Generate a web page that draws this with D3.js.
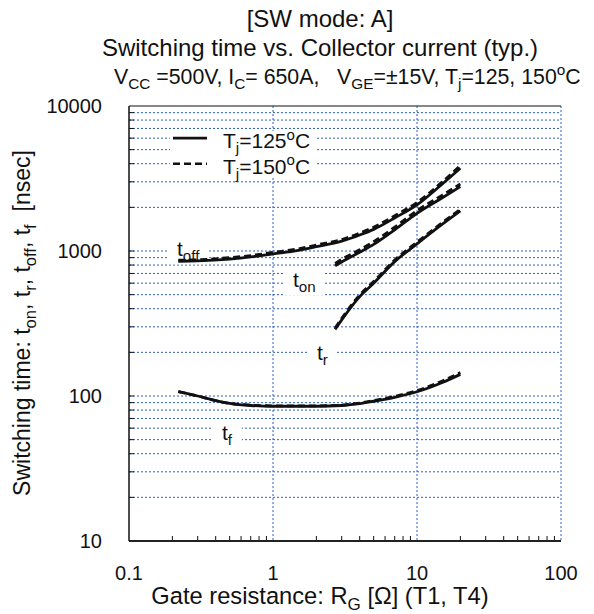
<!DOCTYPE html>
<html><head><meta charset="utf-8">
<script src="https://cdn.jsdelivr.net/npm/d3@7"></script>
<style>body{margin:0;background:#fff}svg{display:block;font-family:"Liberation Sans",Arial,sans-serif}</style>
</head><body><svg id="c" width="594" height="614"></svg>
<script>
// ---- data ----
const rOff = [0.22, 0.3, 0.5, 0.7, 1, 1.5, 2, 3, 4, 5, 7, 10, 15, 20];
const tOff125 = [850, 855, 880, 910, 955, 1010, 1070, 1170, 1290, 1410, 1690, 2080, 2900, 3720];
const tOff150 = [865, 870, 900, 930, 978, 1035, 1100, 1200, 1330, 1460, 1750, 2160, 3000, 3880];
const rOn = [2.7, 3, 4, 5, 7, 10, 15, 20];
const tOn125 = [790, 840, 980, 1110, 1400, 1820, 2330, 2780];
const tOn150 = [820, 875, 1020, 1160, 1460, 1900, 2430, 2900];
const tR125 = [288, 335, 485, 600, 845, 1120, 1530, 1890];
const tR150 = [294, 343, 497, 615, 866, 1150, 1570, 1935];
const rF = [0.22, 0.3, 0.4, 0.5, 0.7, 1, 1.5, 2, 3, 4, 5, 7, 10, 15, 20];
const tF125 = [107, 100, 93, 89, 86, 85, 85, 85, 86, 88.5, 92, 98, 107, 124, 141];
const tF150 = [107, 100, 93, 89, 86.5, 85.5, 85.5, 85.5, 86.5, 89.5, 93, 99.5, 109, 127, 145];
const xTicks = [0.1, 1, 10, 100];
const xTickLabels = ["0.1", "1", "10", "100"];
const yTicks = [10, 100, 1000, 10000];
const yTickLabels = ["10", "100", "1000", "10000"];
const legendLabels = ["125", "150"];

// ---- layout ----
const svg = d3.select("#c");
const L = 129, R = 561, T = 106, B = 541;
const x = d3.scaleLog().domain([0.1, 100]).range([L, R]);
const y = d3.scaleLog().domain([10, 10000]).range([B, T]);
const gridColor = "#2d5fc4";

function tgroup(px, py) {
  return svg.append("g").attr("transform", `translate(${px},${py})`);
}
function addRuns(t, runs, fs) {
  let cur = 0;
  runs.forEach(([s, k]) => {
    const off = k === 1 ? fs * 0.25 : k === 2 ? -fs * 0.4 : 0;
    const sp = t.append("tspan").attr("dy", off - cur).text(s);
    if (k) sp.attr("font-size", fs * 0.72);
    cur = off;
  });
}

// grid
const minorY = [];
for (let d = 10; d < 10000; d *= 10) for (let k = 1; k <= 9; k++) if (!(d === 10 && k === 1)) minorY.push(d * k);
const g = svg.append("g");
g.selectAll("line.hy").data(minorY).join("line")
  .attr("x1", L).attr("x2", R).attr("y1", d => y(d)).attr("y2", d => y(d))
  .attr("stroke", gridColor).attr("stroke-width", 1).attr("stroke-dasharray", "2,2");
g.selectAll("line.vx").data([1, 10, 100]).join("line")
  .attr("x1", d => x(d)).attr("x2", d => x(d)).attr("y1", T).attr("y2", B)
  .attr("stroke", gridColor).attr("stroke-width", 1).attr("stroke-dasharray", "2,2");

// minor ticks
const minorX = [];
for (let d = 0.1; d < 99; d *= 10) for (let k = 2; k <= 9; k++) minorX.push(+(d * k).toPrecision(3));
g.selectAll("line.tx").data(minorX).join("line")
  .attr("x1", d => x(d)).attr("x2", d => x(d)).attr("y1", B).attr("y2", B - 5)
  .attr("stroke", "#111").attr("stroke-width", 1);
g.selectAll("line.ty").data(minorY).join("line")
  .attr("x1", L).attr("x2", L + 5).attr("y1", d => y(d)).attr("y2", d => y(d))
  .attr("stroke", "#111").attr("stroke-width", 1);

// frame
svg.append("line").attr("x1", L).attr("x2", R).attr("y1", T).attr("y2", T).attr("stroke", "#111").attr("stroke-width", 1);
svg.append("line").attr("x1", L).attr("x2", L).attr("y1", T).attr("y2", B).attr("stroke", "#111").attr("stroke-width", 1.5);
svg.append("line").attr("x1", L).attr("x2", R).attr("y1", B).attr("y2", B).attr("stroke", "#222").attr("stroke-width", 2);

// curve labels with white backgrounds
function subLabel(px, py, main, sub) {
  const fs = 21;
  const gg = tgroup(px, py);
  const t = gg.append("text").attr("font-size", fs).attr("fill", "#111");
  addRuns(t, [[main, 0], [sub, 1]], fs);
  const bb = t.node().getBBox();
  gg.insert("rect", "text").attr("x", bb.x - 9).attr("y", bb.y + 2).attr("width", bb.width + 18).attr("height", bb.height - 2).attr("fill", "#fff");
}
subLabel(177, 256, "t", "off");
subLabel(293, 287, "t", "on");
subLabel(317, 360, "t", "r");
subLabel(222, 440, "t", "f");

// legend
svg.append("rect").attr("x", 170).attr("y", 131).attr("width", 147).attr("height", 46).attr("fill", "#fff");
const legY = [y(6000), y(4000)];
legendLabels.forEach((lab, i) => {
  svg.append("line").attr("x1", 173).attr("x2", 207).attr("y1", legY[i]).attr("y2", legY[i])
    .attr("stroke", "#111").attr("stroke-width", 2.6).attr("stroke-dasharray", i ? "7,4" : null);
  const t = tgroup(223, legY[i] + 10).append("text").attr("font-size", 21).attr("fill", "#111");
  addRuns(t, [["T", 0], ["j", 1], ["=" + lab, 0], ["o", 2], ["C", 0]], 21);
});

// curves
const line = d3.line().x(d => x(d[0])).y(d => y(d[1])).curve(d3.curveMonotoneX);
function draw(rs, vs, dashed) {
  svg.append("path").attr("d", line(rs.map((r, i) => [r, vs[i]])))
    .attr("fill", "none").attr("stroke", "#111").attr("stroke-width", 2.8)
    .attr("stroke-dasharray", dashed ? "7,4" : null);
}
draw(rOff, tOff125, false); draw(rOff, tOff150, true);
draw(rOn, tOn125, false); draw(rOn, tOn150, true);
draw(rOn, tR125, false); draw(rOn, tR150, true);
draw(rF, tF125, false); draw(rF, tF150, true);

// tick labels
xTicks.forEach((v, i) => {
  tgroup(x(v), 580).append("text").attr("text-anchor", "middle").attr("font-size", 20).attr("fill", "#111").text(xTickLabels[i]);
});
yTicks.forEach((v, i) => {
  tgroup(102, y(v) + 7).append("text").attr("text-anchor", "end").attr("font-size", 20).attr("fill", "#111").text(yTickLabels[i]);
});

// titles
tgroup(320, 27).append("text").attr("text-anchor", "middle").attr("font-size", 24).attr("fill", "#111").text("[SW mode: A]");
tgroup(320, 56).append("text").attr("text-anchor", "middle").attr("font-size", 24).attr("fill", "#111").text("Switching time vs. Collector current (typ.)");
const t3 = tgroup(114, 84).append("text").attr("font-size", 21.3).attr("fill", "#111").attr("xml:space", "preserve");
addRuns(t3, [["V", 0], ["CC", 1], [" =500V, I", 0], ["C", 1], ["= 650A,   V", 0], ["GE", 1], ["=±15V, T", 0], ["j", 1], ["=125, 150", 0], ["o", 2], ["C", 0]], 21.3);

const xt = tgroup(320, 604).append("text").attr("text-anchor", "middle").attr("font-size", 23.7).attr("fill", "#111");
addRuns(xt, [["Gate resistance: R", 0], ["G", 1], [" [Ω] (T1, T4)", 0]], 23.7);

const yt = svg.append("g").attr("transform", "translate(30,323) rotate(-90)")
  .append("text").attr("text-anchor", "middle").attr("font-size", 23).attr("fill", "#111").attr("xml:space", "preserve");
addRuns(yt, [["Switching time: t", 0], ["on", 1], [", t", 0], ["r", 1], [", t", 0], ["off", 1], [", t", 0], ["f", 1], ["  [nsec]", 0]], 23);
</script></body></html>
